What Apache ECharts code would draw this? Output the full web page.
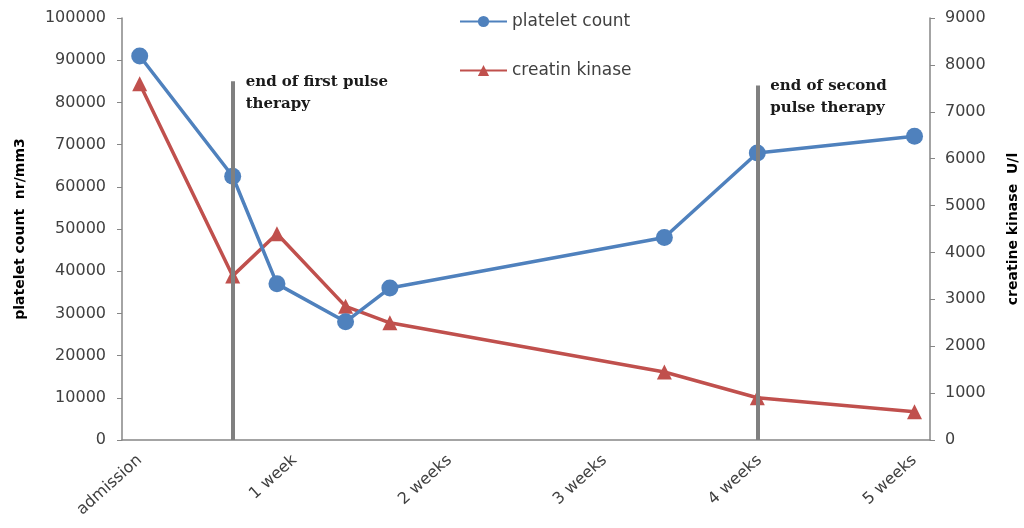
<!DOCTYPE html>
<html>
<head>
<meta charset="utf-8">
<script src="https://cdn.jsdelivr.net/npm/echarts@6/dist/echarts.min.js"></script>
<style>
  html, body { margin: 0; padding: 0; background: #ffffff; }
  #chart { width: 1024px; height: 528px; }
</style>
</head>
<body>
<div id="chart"></div>
<script>
// Day of each measurement since admission
const days = [0, 4.2, 6.2, 9.3, 11.3, 23.7, 27.9, 35];
// Platelet count (nr/mm3)
const platelets = [91000, 62500, 37000, 28000, 36000, 48000, 68000, 72000];
// Creatine kinase (U/l)
const creatineKinase = [7600, 3500, 4400, 2850, 2500, 1450, 900, 600];
// Week labels along the time axis
const weekTicks = [0, 7, 14, 21, 28, 35];
const weekLabels = ['admission', '1 week', '2 weeks', '3 weeks', '4 weeks', '5 weeks'];
// Pulse therapy end markers: day and top of the marker line (platelet scale)
const pulseDays = [4.2, 27.9];
const pulseTops = [85000, 84000];
const pulseTexts = ['end of first pulse\ntherapy', 'end of second\npulse therapy'];

const axisGrey = '#868686';
const labelGrey = '#404040';
const sans = '"DejaVu Sans", "Open Sans", sans-serif';

const chart = echarts.init(document.getElementById('chart'));

const pair = (xs, ys) => xs.map((x, i) => [x, ys[i]]);
const plain = v => String(v);

chart.setOption({
  animation: false,
  backgroundColor: '#ffffff',
  grid: { left: 122, right: 94, top: 18, bottom: 88, outerBoundsMode: 'none', containLabel: false },
  legend: {
    orient: 'vertical',
    left: 454,
    top: 8,
    itemWidth: 47,
    itemHeight: 14,
    itemGap: 32,
    textStyle: { fontFamily: sans, fontSize: 17, color: labelGrey },
    data: ['platelet count', 'creatin kinase']
  },
  xAxis: {
    type: 'value',
    min: -0.8,
    max: 35.7,
    splitLine: { show: false },
    axisTick: { show: false },
    axisLine: { show: true, onZero: false, lineStyle: { color: axisGrey, width: 1.5 } },
    axisLabel: {
      customValues: weekTicks,
      rotate: 42,
      margin: 18,
      fontFamily: sans,
      fontSize: 16,
      color: labelGrey,
      formatter: v => weekLabels[weekTicks.indexOf(v)] ?? ''
    }
  },
  yAxis: [
    {
      type: 'value',
      min: 0, max: 100000, interval: 10000,
      name: 'platelet count  nr/mm3',
      nameLocation: 'middle',
      nameRotate: 90,
      nameGap: 95,
      nameTextStyle: { fontFamily: sans, fontSize: 14, fontWeight: 'bold', color: '#000' },
      splitLine: { show: false },
      axisLine: { show: true, onZero: false, lineStyle: { color: axisGrey, width: 1.5 } },
      axisTick: { show: true, length: 5, lineStyle: { color: axisGrey } },
      axisLabel: { margin: 16, fontFamily: sans, fontSize: 16, color: labelGrey, formatter: plain }
    },
    {
      type: 'value',
      min: 0, max: 9000, interval: 1000,
      position: 'right',
      name: 'creatine kinase  U/l',
      nameLocation: 'middle',
      nameRotate: 90,
      nameGap: 76,
      nameTextStyle: { fontFamily: sans, fontSize: 14, fontWeight: 'bold', color: '#000' },
      splitLine: { show: false },
      axisLine: { show: true, onZero: false, lineStyle: { color: axisGrey, width: 1.5 } },
      axisTick: { show: true, length: 5, lineStyle: { color: axisGrey } },
      axisLabel: { margin: 15, fontFamily: sans, fontSize: 16, color: labelGrey, formatter: plain }
    }
  ],
  series: [
    {
      name: 'platelet count',
      type: 'line',
      yAxisIndex: 0,
      data: pair(days, platelets),
      symbol: 'circle',
      symbolSize: 17,
      z: 3,
      itemStyle: { color: '#4F81BD' },
      lineStyle: { color: '#4F81BD', width: 3.5 },
      markLine: {
        silent: true,
        symbol: 'none',
        label: { show: false },
        lineStyle: { color: '#808080', width: 4, type: 'solid' },
        data: pulseDays.map((d, i) => [{ coord: [d, pulseTops[i]] }, { coord: [d, 0] }])
      }
    },
    {
      name: 'creatin kinase',
      type: 'line',
      yAxisIndex: 1,
      data: pair(days, creatineKinase),
      symbol: 'triangle',
      symbolSize: 15,
      z: 2,
      itemStyle: { color: '#C0504D' },
      lineStyle: { color: '#C0504D', width: 3.5 }
    }
  ]
});

// Annotation text placed beside each pulse-therapy marker line
chart.setOption({
  graphic: pulseDays.map((d, i) => {
    const p = chart.convertToPixel({ xAxisIndex: 0, yAxisIndex: 0 }, [d, pulseTops[i]]);
    return {
      type: 'text',
      x: p[0] + 13,
      y: p[1] - 10,
      z: 10,
      style: {
        text: pulseTexts[i],
        font: 'bold 15px "DejaVu Serif", "Liberation Serif", serif',
        fill: '#1a1a1a',
        lineHeight: 22
      }
    };
  })
});
</script>
</body>
</html>
